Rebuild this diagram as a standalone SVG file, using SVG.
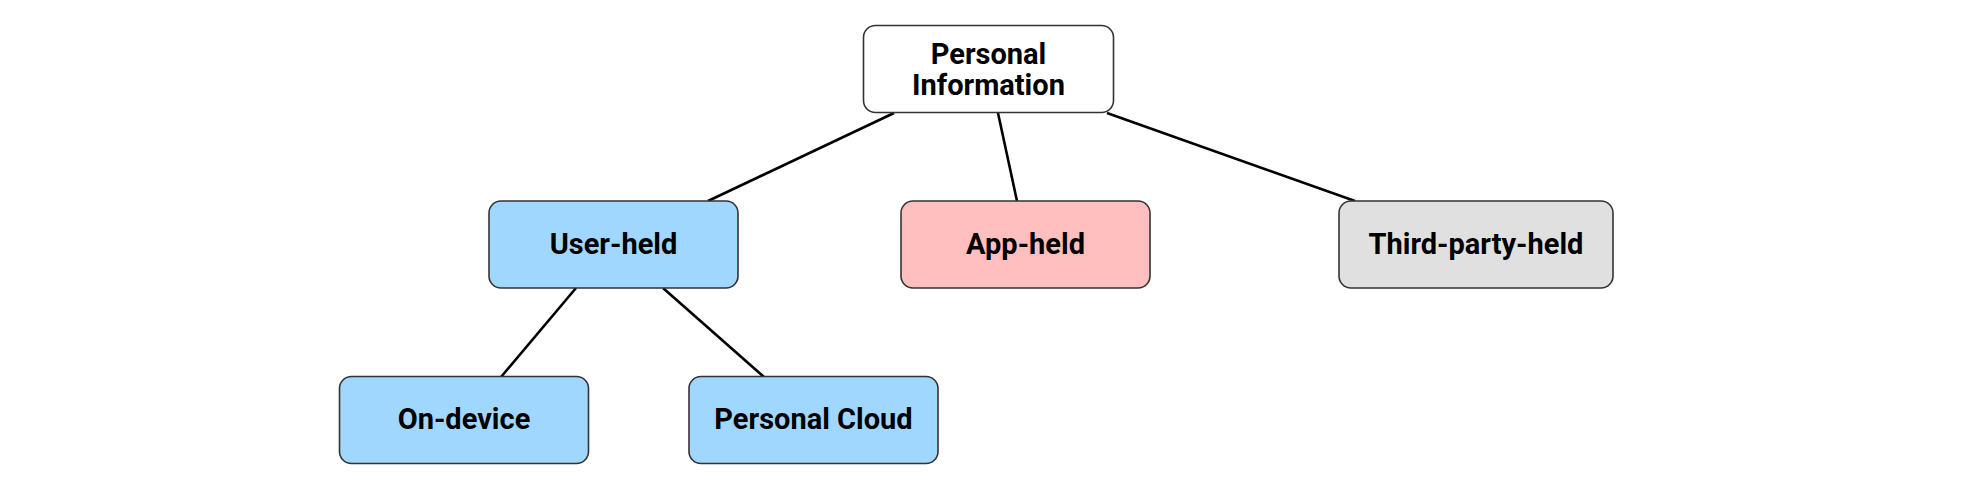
<svg xmlns="http://www.w3.org/2000/svg" width="1988" height="502" viewBox="0 0 1988 502">
<style>
.box{stroke:#333;stroke-width:1.6}
.lbl{font-family:Roboto,"Liberation Sans",sans-serif;font-weight:700;font-size:29px;fill:#000;text-anchor:middle}
.edge{stroke:#000;stroke-width:2.6;fill:none}
</style>
<rect width="1988" height="502" fill="#fff"/>
<g id="connectors">
<line class="edge" x1="894" y1="113" x2="708" y2="201"/>
<line class="edge" x1="998" y1="113" x2="1017" y2="201"/>
<line class="edge" x1="1107" y1="113" x2="1355" y2="201"/>
<line class="edge" x1="576" y1="288" x2="501" y2="377"/>
<line class="edge" x1="663" y1="288" x2="764" y2="377"/>
</g>
<g id="personal-information">
<rect class="box" x="863.5" y="25.5" width="250" height="87" rx="12" fill="#fff"/>
<text class="lbl" x="988.5" y="64">Personal</text>
<text class="lbl" x="988.5" y="95">Information</text>
</g>
<g id="user-held">
<rect class="box" x="489" y="201" width="249" height="87" rx="12" fill="#a0d7fe"/>
<text class="lbl" x="613.5" y="254">User-held</text>
</g>
<g id="app-held">
<rect class="box" x="901" y="201" width="249" height="87" rx="12" fill="#ffbfbf"/>
<text class="lbl" x="1025.5" y="254">App-held</text>
</g>
<g id="third-party-held">
<rect class="box" x="1339" y="201" width="274" height="87" rx="12" fill="#e0e0e0"/>
<text class="lbl" x="1476" y="254">Third-party-held</text>
</g>
<g id="on-device">
<rect class="box" x="339.5" y="376.5" width="249" height="87" rx="12" fill="#a0d7fe"/>
<text class="lbl" x="464" y="429">On-device</text>
</g>
<g id="personal-cloud">
<rect class="box" x="689" y="376.5" width="249" height="87" rx="12" fill="#a0d7fe"/>
<text class="lbl" x="813.5" y="429">Personal Cloud</text>
</g>
</svg>
